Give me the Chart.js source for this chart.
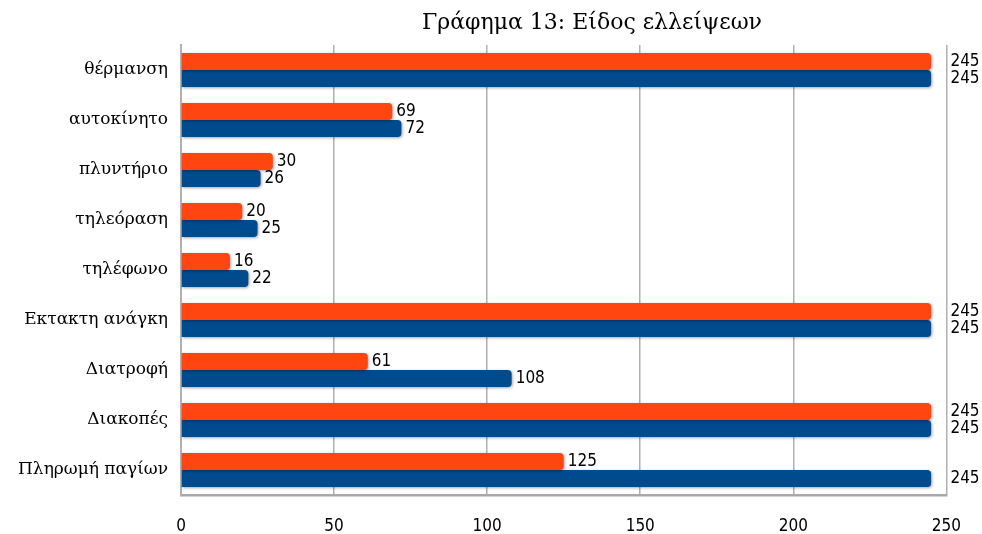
<!DOCTYPE html>
<html>
<head>
<meta charset="utf-8">
<script src="https://cdn.jsdelivr.net/npm/chart.js@4"></script>
<style>
  html, body { margin: 0; padding: 0; background: #fff; }
  #wrap { width: 982px; height: 534px; }
</style>
</head>
<body>
<div id="wrap"><canvas id="chart"></canvas></div>
<script>
const categories = ['θέρμανση', 'αυτοκίνητο', 'πλυντήριο', 'τηλεόραση', 'τηλέφωνο',
  'Εκτακτη ανάγκη', 'Διατροφή', 'Διακοπές', 'Πληρωμή παγίων'];
const orangeValues = [245, 69, 30, 20, 16, 245, 61, 245, 125];
const blueValues = [245, 72, 26, 25, 22, 245, 108, 245, 245];
const xTicks = [0, 50, 100, 150, 200, 250];
const title = 'Γράφημα 13: Είδος ελλείψεων';

const serif = '"DejaVu Serif", "Liberation Serif", serif';
const narrow = '"Liberation Sans Narrow", "DejaVu Sans Condensed", sans-serif';

// soft shadow under the bars
const barShadow = {
  id: 'barShadow',
  beforeDatasetsDraw(chart) {
    const c = chart.ctx;
    c.save();
    c.shadowColor = 'rgba(0,0,0,0.35)';
    c.shadowBlur = 3;
    c.shadowOffsetX = 1;
    c.shadowOffsetY = 1;
  },
  afterDatasetsDraw(chart) {
    chart.ctx.restore();
  }
};

// value labels at the end of each bar + the title
const valueLabels = {
  id: 'valueLabels',
  afterDatasetsDraw(chart) {
    const c = chart.ctx;
    const right = chart.chartArea.right;
    c.save();
    c.font = '17px ' + narrow;
    c.fillStyle = '#000';
    c.textBaseline = 'middle';
    chart.data.datasets.forEach((ds, i) => {
      chart.getDatasetMeta(i).data.forEach((bar, j) => {
        let x = bar.x + 4;
        if (x + 20 > right) x = Math.max(x, right + 4);
        c.fillText(ds.data[j], x, bar.y);
      });
    });
    c.font = '22px ' + serif;
    c.textAlign = 'center';
    c.fillText(title, 592, 23);
    c.restore();
  }
};

new Chart(document.getElementById('chart'), {
  type: 'bar',
  data: {
    labels: categories,
    datasets: [
      {
        data: orangeValues,
        backgroundColor: '#ff4611',
        borderWidth: 0,
        borderRadius: 4,
        borderSkipped: 'start',
        categoryPercentage: 0.68,
        barPercentage: 1.0
      },
      {
        data: blueValues,
        backgroundColor: '#004b8d',
        borderWidth: 0,
        borderRadius: 4,
        borderSkipped: 'start',
        categoryPercentage: 0.68,
        barPercentage: 1.0
      }
    ]
  },
  options: {
    responsive: true,
    maintainAspectRatio: false,
    animation: false,
    indexAxis: 'y',
    layout: { padding: { left: 0, right: 35, top: 45, bottom: 0 } },
    plugins: {
      legend: { display: false },
      tooltip: { enabled: false },
      title: { display: false }
    },
    scales: {
      x: {
        min: 0,
        max: 250,
        afterBuildTicks: axis => { axis.ticks = xTicks.map(v => ({ value: v })); },
        afterFit: axis => { axis.height = 39; },
        grid: { color: '#b0b0b0', lineWidth: 1.5, drawTicks: false },
        border: { display: true, color: '#a8a8a8', width: 2.5 },
        ticks: { color: '#000', padding: 21, font: { family: narrow, size: 17 } }
      },
      y: {
        afterFit: axis => { axis.width = 181; },
        grid: { display: false, drawTicks: false },
        border: { display: true, color: '#b0b0b0', width: 2 },
        ticks: { color: '#000', padding: 13, font: { family: serif, size: 17 } }
      }
    }
  },
  plugins: [barShadow, valueLabels]
});
</script>
</body>
</html>
